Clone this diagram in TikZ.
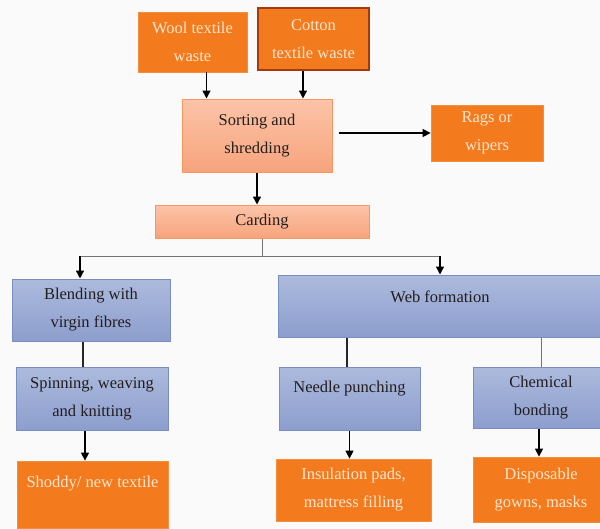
\documentclass[tikz,border=0pt]{standalone}
\usepackage{fontspec}
\newfontfamily\flowfont{Liberation Serif}
\usetikzlibrary{arrows.meta,positioning,calc}

\definecolor{wasteorange}{RGB}{244,122,30}
\definecolor{creamtext}{RGB}{253,230,205}
\definecolor{salmontop}{RGB}{251,196,168}
\definecolor{salmonbot}{RGB}{247,164,124}
\definecolor{salmonline}{RGB}{246,150,100}
\definecolor{bluetop}{RGB}{172,186,220}
\definecolor{bluebot}{RGB}{140,158,206}
\definecolor{blueline}{RGB}{122,142,194}
\definecolor{cottonline}{RGB}{165,58,18}
\definecolor{paper}{RGB}{250,250,250}
\definecolor{inktext}{RGB}{35,30,30}

\begin{document}
\begin{tikzpicture}[x=1pt,y=-1pt,
    font=\flowfont\fontsize{16.5}{28}\selectfont,
    wastebox/.style={rectangle,fill=wasteorange,draw=wasteorange!85!white,line width=0.8pt,
        text=creamtext,align=center,inner sep=0pt},
    procbox/.style={rectangle,top color=salmontop,bottom color=salmonbot,draw=salmonline,
        line width=1pt,text=inktext,align=center,inner sep=0pt},
    stagebox/.style={rectangle,top color=bluetop,bottom color=bluebot,draw=blueline,
        line width=1pt,text=inktext,align=center,inner sep=0pt},
    arr/.style={-{Triangle[width=8pt,length=8pt]},line width=1.4pt,black},
    link/.style={line width=1.3pt,black!85},
    thinlink/.style={line width=0.9pt,black!55}]

    % Page
    \fill[paper] (0,0) rectangle (600,528);
    \clip (0,0) rectangle (600,528);

    % Waste inputs
    \node[wastebox,minimum width=109pt,minimum height=60pt] (wool) at (192.5,42) {Wool textile\\waste};
    \node[wastebox,draw=cottonline,line width=1.4pt,minimum width=111pt,minimum height=62pt] (cotton) at (313.5,39) {Cotton\\textile waste};

    % Sorting and carding
    \node[procbox,minimum width=150pt,minimum height=73pt] (sorting) at (257,135.5) {Sorting and\\shredding};
    \node[wastebox,minimum width=112pt,minimum height=56pt] (rags) at (487,133) {Rags or\\wipers};
    \node[procbox,minimum width=214pt,minimum height=33pt] (carding) at (262,221.5) {Carding};

    % Processing routes
    \node[stagebox,minimum width=324pt,minimum height=62pt] (web) at (440,306) {};
    \node[text=inktext] (webtext) at ([yshift=9pt]web.center) {Web formation};
    \node[stagebox,minimum width=158pt,minimum height=62pt] (blending) at (91,310) {Blending with\\virgin fibres};
    \node[stagebox,minimum width=152pt,minimum height=63pt] (spinning) at (92,398.5) {Spinning, weaving\\and knitting};
    \node[stagebox,minimum width=141pt,minimum height=63pt] (needle) at (349.5,398.5) {};
    \node[text=inktext] (needletext) at ([yshift=10pt]needle.center) {Needle punching};
    \node[stagebox,minimum width=136pt,minimum height=61pt] (chemical) at (541,397.5) {Chemical\\bonding};

    % Products
    \node[wastebox,minimum width=151pt,minimum height=67pt] (shoddy) at (92.5,494.5) {};
    \node[text=creamtext] (shoddytext) at ([yshift=11pt]shoddy.center) {Shoddy/ new textile};
    \node[wastebox,minimum width=155pt,minimum height=62pt] (insulation) at (353.5,490) {Insulation pads,\\mattress filling};
    \node[wastebox,minimum width=136pt,minimum height=65pt] (disposable) at (541,489.5) {Disposable\\gowns, masks};

    % Top arrows
    \draw[arr] ([xshift=14pt]wool.south) -- ([xshift=14pt]wool.south |- sorting.north);
    \draw[arr] ([xshift=-10.5pt]cotton.south) -- ([xshift=-10.5pt]cotton.south |- sorting.north);
    \draw[arr] (sorting.south) -- (sorting.south |- carding.north);
    \draw[arr] ([xshift=6pt]sorting.east |- rags.west) -- (rags.west);

    % Branching after carding
    \coordinate (split) at ($(carding.south)+(0,17.5)$);
    \coordinate (splitL) at (80,0 |- split);
    \coordinate (splitR) at (440,0 |- split);
    \draw[thinlink] (carding.south) -- (split);
    \draw[thinlink] (splitL) -- (splitR);
    \draw[arr] (splitL) -- (splitL |- blending.north);
    \draw[arr] (splitR) -- (splitR |- web.north);

    % Lower links
    \draw[link] ([xshift=-8pt]blending.south) -- ([xshift=-8pt]blending.south |- spinning.north);
    \draw[link] ([xshift=-93pt]web.south) -- ([xshift=-93pt]web.south |- needle.north);
    \draw[thinlink] ([xshift=101pt]web.south) -- ([xshift=101pt]web.south |- chemical.north);
    \draw[arr] ([xshift=-7pt]spinning.south) -- ([xshift=-7pt]spinning.south |- shoddy.north);
    \draw[arr] (needle.south) -- (needle.south |- insulation.north);
    \draw[arr] ([xshift=-2pt]chemical.south) -- ([xshift=-2pt]chemical.south |- disposable.north);
\end{tikzpicture}
\end{document}
